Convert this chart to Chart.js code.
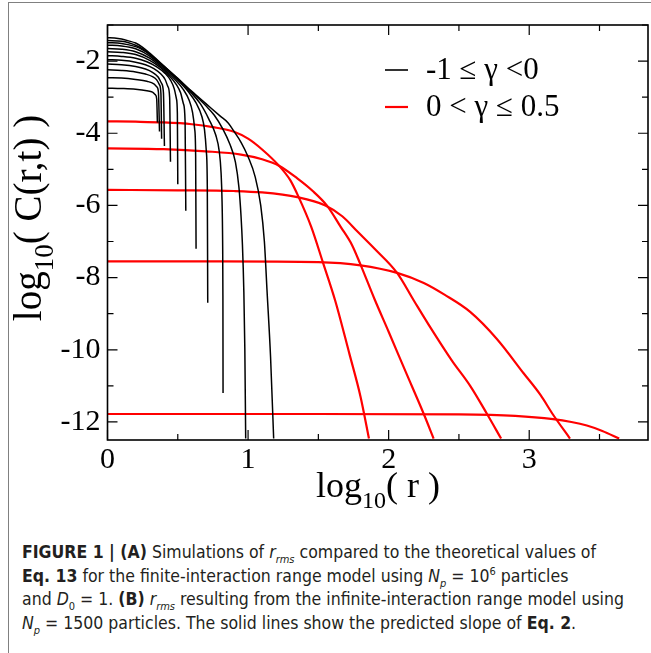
<!DOCTYPE html>
<html>
<head>
<meta charset="utf-8">
<script src="https://cdn.jsdelivr.net/npm/chart.js@4.4.0/dist/chart.umd.min.js"></script>
<style>
  html, body { margin: 0; padding: 0; background: #fff; }
  #page { position: relative; width: 651px; height: 653px; overflow: hidden; }
  #frame { position: absolute; left: 8px; top: 2px; right: -10px; bottom: -10px;
           border-left: 1.5px solid #808080; border-top: 1.5px solid #808080; }
  #chartBox { position: absolute; left: 0; top: 0; width: 651px; height: 515px; }
  #caption { position: absolute; left: 22px; top: 541px; white-space: nowrap;
             font-family: "DejaVu Sans Condensed", "Liberation Sans Narrow", sans-serif;
             font-size: 17.5px; line-height: 23.7px; color: #231f20; }
  #caption b { font-weight: bold; }
  #caption sub, #caption sup { font-size: 11px; line-height: 0; }
</style>
</head>
<body>
<div id="page">
  <div id="frame"></div>
  <div id="chartBox"><canvas id="corrChart" width="651" height="515"></canvas></div>
  <div id="caption">
    <b>FIGURE 1 | (A)</b> Simulations of <i>r<sub>rms</sub></i> compared to the theoretical values of<br>
    <b>Eq. 13</b> for the finite-interaction range model using <i>N<sub>p</sub></i> = 10<sup>6</sup> particles<br>
    and <i>D</i><sub>0</sub> = 1. <b>(B)</b> <i>r<sub>rms</sub></i> resulting from the infinite-interaction range model using<br>
    <i>N<sub>p</sub></i> = 1500 particles. The solid lines show the predicted slope of <b>Eq. 2</b>.
  </div>
</div>
<script>
// ticks
var xMajorTicks = [0, 1, 2, 3];
var xMinorTicks = [0.5, 1.5, 2.5, 3.5];
var yMajorTicks = [-2, -4, -6, -8, -10, -12];
var yMinorTicks = [-1, -3, -5, -7, -9, -11];

var legendLabels = ['-1 \u2264 \u03b3 <0', '0 < \u03b3 \u2264 0.5'];
var legendColors = ['#000000', '#ff0000'];

// black curves, -1 <= gamma < 0  (x = log10 r, y = log10 C)
var neg1x = [0, 0.05, 0.1, 0.15, 0.2, 0.25, 0.3, 0.4, 0.5, 0.6, 0.7, 0.8, 0.86, 0.9, 0.95, 1.0, 1.05, 1.09, 1.116, 1.135, 1.16, 1.182];
var neg1y = [-1.35, -1.36, -1.39, -1.44, -1.50, -1.62, -1.78, -2.13, -2.48, -2.84, -3.18, -3.52, -3.72, -3.95, -4.25, -4.65, -5.2, -6.0, -7.0, -8.37, -10.2, -12.46];
var neg2x = [0, 0.1, 0.15, 0.2, 0.25, 0.3, 0.4, 0.5, 0.6, 0.7, 0.76, 0.82, 0.87, 0.91, 0.935, 0.95, 0.96, 0.97, 0.977, 0.983];
var neg2y = [-1.43, -1.45, -1.49, -1.56, -1.66, -1.80, -2.14, -2.49, -2.86, -3.24, -3.5, -3.88, -4.3, -4.8, -5.5, -6.3, -7.1, -8.4, -10.0, -12.46];
var neg3x = [0, 0.1, 0.2, 0.25, 0.3, 0.4, 0.5, 0.6, 0.66, 0.72, 0.77, 0.795, 0.808, 0.815, 0.819, 0.821, 0.822];
var neg3y = [-1.49, -1.51, -1.60, -1.69, -1.82, -2.16, -2.51, -2.9, -3.18, -3.6, -4.05, -4.5, -5.1, -5.9, -7.0, -8.5, -11.2];
var neg4x = [0, 0.1, 0.2, 0.3, 0.4, 0.5, 0.58, 0.63, 0.67, 0.69, 0.703, 0.71, 0.713];
var neg4y = [-1.56, -1.58, -1.66, -1.86, -2.18, -2.53, -2.87, -3.16, -3.52, -3.9, -4.5, -5.5, -8.7];
var neg5x = [0, 0.1, 0.2, 0.3, 0.4, 0.48, 0.54, 0.58, 0.605, 0.62, 0.627, 0.63];
var neg5y = [-1.65, -1.67, -1.74, -1.92, -2.22, -2.51, -2.79, -3.08, -3.42, -3.88, -4.6, -7.2];
var neg6x = [0, 0.1, 0.2, 0.3, 0.38, 0.44, 0.49, 0.52, 0.54, 0.552, 0.557];
var neg6y = [-1.74, -1.76, -1.82, -1.98, -2.19, -2.41, -2.65, -2.88, -3.18, -3.68, -6.15];
var neg7x = [0, 0.1, 0.2, 0.28, 0.35, 0.41, 0.45, 0.475, 0.49, 0.497, 0.5];
var neg7y = [-1.85, -1.87, -1.92, -2.02, -2.16, -2.34, -2.54, -2.77, -3.04, -3.45, -5.41];
var neg8x = [0, 0.1, 0.2, 0.27, 0.33, 0.38, 0.41, 0.43, 0.442, 0.448];
var neg8y = [-1.96, -1.98, -2.03, -2.1, -2.21, -2.36, -2.51, -2.71, -3.0, -4.79];
var neg9x = [0, 0.1, 0.2, 0.27, 0.32, 0.36, 0.385, 0.398, 0.405];
var neg9y = [-2.08, -2.10, -2.15, -2.22, -2.31, -2.44, -2.62, -2.88, -4.35];
var neg10x = [0, 0.1, 0.2, 0.27, 0.32, 0.35, 0.37, 0.38, 0.385];
var neg10y = [-2.24, -2.26, -2.30, -2.36, -2.43, -2.52, -2.66, -2.9, -4.15];
var neg11x = [0, 0.1, 0.2, 0.28, 0.33, 0.35, 0.362, 0.37];
var neg11y = [-2.46, -2.47, -2.51, -2.56, -2.63, -2.71, -2.85, -3.95];
var neg12x = [0, 0.1, 0.2, 0.28, 0.32, 0.34, 0.35, 0.355];
var neg12y = [-2.75, -2.76, -2.78, -2.82, -2.86, -2.93, -3.05, -3.7];

// red curves, 0 < gamma <= 0.5
var pos1x = [0, 0.2, 0.4, 0.6, 0.75, 0.9, 1.0, 1.1, 1.22, 1.3, 1.36, 1.45, 1.53, 1.62, 1.72, 1.80, 1.86];
var pos1y = [-3.67, -3.68, -3.70, -3.75, -3.83, -3.96, -4.15, -4.45, -4.9, -5.3, -5.77, -6.6, -7.55, -8.64, -10.1, -11.3, -12.46];
var pos2x = [0, 0.4, 0.7, 0.95, 1.1, 1.22, 1.35, 1.46, 1.56, 1.66, 1.74, 1.80, 1.90, 2.0, 2.12, 2.25, 2.32];
var pos2y = [-4.42, -4.44, -4.50, -4.59, -4.72, -4.9, -5.25, -5.6, -6.0, -6.6, -7.1, -7.64, -8.6, -9.5, -10.6, -11.78, -12.46];
var pos3x = [0, 0.5, 0.9, 1.1, 1.35, 1.55, 1.67, 1.78, 1.9, 2.06, 2.18, 2.3, 2.45, 2.58, 2.70, 2.80];
var pos3y = [-5.57, -5.58, -5.60, -5.64, -5.77, -6.0, -6.3, -6.73, -7.2, -7.87, -8.64, -9.4, -10.3, -11.0, -11.78, -12.46];
var pos4x = [0, 0.8, 1.5, 1.8, 2.06, 2.25, 2.4, 2.58, 2.77, 2.96, 3.08, 3.17, 3.29];
var pos4y = [-7.55, -7.55, -7.57, -7.66, -7.87, -8.15, -8.48, -8.95, -9.7, -10.65, -11.25, -11.8, -12.46];
var pos5x = [0, 1.5, 2.5, 2.9, 3.17, 3.3, 3.41, 3.52, 3.64];
var pos5y = [-11.78, -11.78, -11.79, -11.83, -11.92, -12.0, -12.1, -12.25, -12.46];

var blackCurves = [[neg1x, neg1y], [neg2x, neg2y], [neg3x, neg3y], [neg4x, neg4y], [neg5x, neg5y], [neg6x, neg6y],
                   [neg7x, neg7y], [neg8x, neg8y], [neg9x, neg9y], [neg10x, neg10y], [neg11x, neg11y], [neg12x, neg12y]];
var redCurves = [[pos1x, pos1y], [pos2x, pos2y], [pos3x, pos3y], [pos4x, pos4y], [pos5x, pos5y]];

function toPoints(xs, ys) {
  return xs.map(function (x, i) { return {x: x, y: ys[i]}; });
}

var datasets = [];
blackCurves.forEach(function (c) {
  datasets.push({data: toPoints(c[0], c[1]), borderColor: legendColors[0], borderWidth: 1.5});
});
redCurves.forEach(function (c) {
  datasets.push({data: toPoints(c[0], c[1]), borderColor: legendColors[1], borderWidth: 2.2});
});
datasets.forEach(function (d) {
  d.showLine = true;
  d.pointRadius = 0;
  d.fill = false;
  d.cubicInterpolationMode = 'monotone';
});

var serif = '"Liberation Serif", "Times New Roman", serif';

// frame box plus inward ticks on all four sides
var frameTicks = {
  id: 'frameTicks',
  afterDatasetsDraw: function (chart) {
    var ctx = chart.ctx, a = chart.chartArea, xs = chart.scales.x, ys = chart.scales.y;
    ctx.save();
    ctx.strokeStyle = '#000';
    ctx.lineWidth = 1.6;
    ctx.strokeRect(a.left, a.top, a.right - a.left, a.bottom - a.top);
    ctx.lineWidth = 1.2;
    ctx.beginPath();
    function xTick(v, len) {
      var p = xs.getPixelForValue(v);
      ctx.moveTo(p, a.bottom); ctx.lineTo(p, a.bottom - len);
      ctx.moveTo(p, a.top); ctx.lineTo(p, a.top + len);
    }
    function yTick(v, len) {
      var p = ys.getPixelForValue(v);
      ctx.moveTo(a.left, p); ctx.lineTo(a.left + len, p);
      ctx.moveTo(a.right, p); ctx.lineTo(a.right - len, p);
    }
    xMajorTicks.forEach(function (v) { xTick(v, 10); });
    xMinorTicks.forEach(function (v) { xTick(v, 6); });
    yMajorTicks.forEach(function (v) { yTick(v, 10); });
    yMinorTicks.forEach(function (v) { yTick(v, 6); });
    ctx.stroke();
    ctx.restore();
  }
};

// axis titles with subscript 10, and the legend inside the plot
function drawLogTitle(ctx, x, y, inner, size) {
  ctx.font = size + 'px ' + serif;
  var w1 = ctx.measureText('log').width;
  ctx.font = Math.round(size * 0.68) + 'px ' + serif;
  var w2 = ctx.measureText('10').width;
  ctx.font = size + 'px ' + serif;
  var w3 = ctx.measureText(inner).width;
  var start = x - (w1 + w2 + w3) / 2;
  ctx.fillText('log', start, y);
  ctx.font = Math.round(size * 0.68) + 'px ' + serif;
  ctx.fillText('10', start + w1, y + size * 0.3);
  ctx.font = size + 'px ' + serif;
  ctx.fillText(inner, start + w1 + w2, y);
}

var titlesLegend = {
  id: 'titlesLegend',
  afterDraw: function (chart) {
    var ctx = chart.ctx;
    ctx.save();
    ctx.fillStyle = '#000';
    ctx.textBaseline = 'alphabetic';
    ctx.textAlign = 'left';
    drawLogTitle(ctx, 378, 497, '( r )', 36);
    ctx.save();
    ctx.translate(41, 218);
    ctx.rotate(-Math.PI / 2);
    drawLogTitle(ctx, 0, 0, '( C(r,t) )', 39);
    ctx.restore();

    var rows = [70, 107];
    legendLabels.forEach(function (lab, i) {
      ctx.strokeStyle = legendColors[i];
      ctx.lineWidth = i === 0 ? 1.6 : 2.2;
      ctx.beginPath();
      ctx.moveTo(385, rows[i]);
      ctx.lineTo(408, rows[i]);
      ctx.stroke();
      ctx.font = '31px ' + serif;
      ctx.textBaseline = 'middle';
      ctx.fillStyle = '#000';
      ctx.fillText(lab, 426, rows[i] + 1);
    });
    ctx.restore();
  }
};

new Chart(document.getElementById('corrChart'), {
  type: 'scatter',
  data: {datasets: datasets},
  options: {
    responsive: false,
    animation: false,
    layout: {padding: {left: 0, top: 19, right: 3, bottom: 0}},
    plugins: {legend: {display: false}, tooltip: {enabled: false}},
    scales: {
      x: {
        type: 'linear',
        min: 0,
        max: 3.845,
        grid: {display: false, drawTicks: false, tickLength: 0},
        border: {display: false},
        afterBuildTicks: function (scale) {
          scale.ticks = xMajorTicks.map(function (v) { return {value: v}; });
        },
        afterFit: function (scale) { scale.height = 75; },
        ticks: {
          autoSkip: false,
          maxRotation: 0,
          padding: 2,
          color: '#000',
          font: {family: serif, size: 30},
          callback: function (v) { return String(v); }
        }
      },
      y: {
        type: 'linear',
        min: -12.5,
        max: -1,
        grid: {display: false, drawTicks: false, tickLength: 0},
        border: {display: false},
        afterBuildTicks: function (scale) {
          scale.ticks = yMajorTicks.map(function (v) { return {value: v}; });
        },
        afterFit: function (scale) { scale.width = 107.5; },
        ticks: {
          autoSkip: false,
          padding: 7,
          color: '#000',
          font: {family: serif, size: 30},
          callback: function (v) { return String(v); }
        }
      }
    }
  },
  plugins: [frameTicks, titlesLegend]
});
</script>
</body>
</html>
